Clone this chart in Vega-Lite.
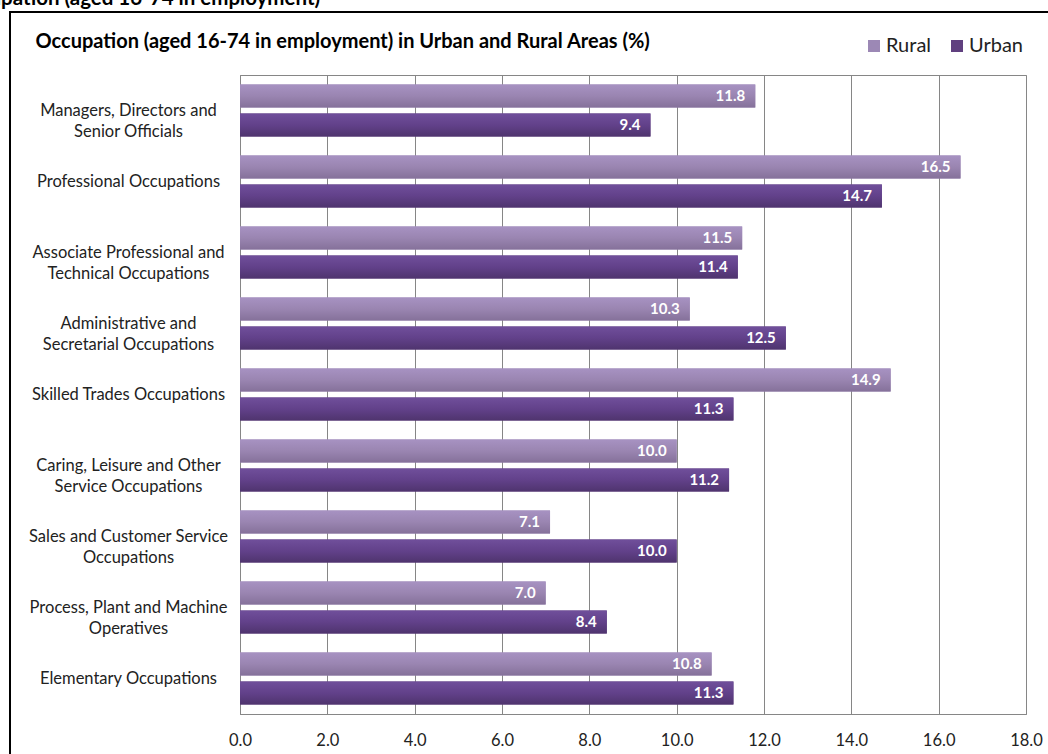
{
  "$schema": "https://vega.github.io/schema/vega-lite/v6.json",
  "autosize": {"type": "none"},
  "width": 786,
  "height": 639,
  "padding": {"left": 240, "top": 75, "right": 22, "bottom": 40},
  "background": "white",
  "config": {
    "view": {"stroke": "#868686", "strokeWidth": 1},
    "font": "Lato"
  },
  "data": {
    "values": [
      {"occupation": "Managers, Directors and|Senior Officials", "area": "Rural", "value": 11.8},
      {"occupation": "Managers, Directors and|Senior Officials", "area": "Urban", "value": 9.4},
      {"occupation": "Professional Occupations", "area": "Rural", "value": 16.5},
      {"occupation": "Professional Occupations", "area": "Urban", "value": 14.7},
      {"occupation": "Associate Professional and|Technical Occupations", "area": "Rural", "value": 11.5},
      {"occupation": "Associate Professional and|Technical Occupations", "area": "Urban", "value": 11.4},
      {"occupation": "Administrative and|Secretarial Occupations", "area": "Rural", "value": 10.3},
      {"occupation": "Administrative and|Secretarial Occupations", "area": "Urban", "value": 12.5},
      {"occupation": "Skilled Trades Occupations", "area": "Rural", "value": 14.9},
      {"occupation": "Skilled Trades Occupations", "area": "Urban", "value": 11.3},
      {"occupation": "Caring, Leisure and Other|Service Occupations", "area": "Rural", "value": 10.0},
      {"occupation": "Caring, Leisure and Other|Service Occupations", "area": "Urban", "value": 11.2},
      {"occupation": "Sales and Customer Service|Occupations", "area": "Rural", "value": 7.1},
      {"occupation": "Sales and Customer Service|Occupations", "area": "Urban", "value": 10.0},
      {"occupation": "Process, Plant and Machine|Operatives", "area": "Rural", "value": 7.0},
      {"occupation": "Process, Plant and Machine|Operatives", "area": "Urban", "value": 8.4},
      {"occupation": "Elementary Occupations", "area": "Rural", "value": 10.8},
      {"occupation": "Elementary Occupations", "area": "Urban", "value": 11.3}
    ]
  },
  "encoding": {
    "y": {
      "field": "occupation",
      "type": "nominal",
      "sort": null,
      "scale": {"paddingInner": 0.268, "paddingOuter": 0.134},
      "axis": {
        "domainColor": "#868686",
        "ticks": false,
        "labelAlign": "center",
        "labelPadding": 112,
        "labelFontSize": 16.5,
        "labelColor": "#222222",
        "labelFont": "Lato",
        "labelLineHeight": 21,
        "labelLimit": 300,
        "labelExpr": "split(datum.value, '|')",
        "title": "Occupation (aged 16-74 in employment) in Urban and Rural Areas (%)",
        "titleAngle": 0,
        "titleX": -205,
        "titleY": -28,
        "titleAlign": "left",
        "titleBaseline": "alphabetic",
        "titleFontSize": 20,
        "titleFontWeight": "bold",
        "titleColor": "black",
        "titleFont": "Lato"
      }
    },
    "yOffset": {
      "field": "area",
      "type": "nominal",
      "sort": ["Rural", "Urban"],
      "scale": {"paddingInner": 0.207}
    },
    "x": {
      "field": "value",
      "type": "quantitative",
      "scale": {"domain": [0, 18], "nice": false},
      "axis": {
        "values": [0, 2, 4, 6, 8, 10, 12, 14, 16, 18],
        "format": ".1f",
        "grid": true,
        "gridColor": "#868686",
        "domainColor": "#868686",
        "ticks": false,
        "labelFlush": false,
        "labelPadding": 18,
        "labelFontSize": 16.5,
        "labelColor": "#222222",
        "labelFont": "Lato",
        "title": "Occupation (aged 16-74 in employment)",
        "titleX": -287,
        "titleY": -710,
        "titleAlign": "left",
        "titleBaseline": "alphabetic",
        "titleFontSize": 20.5,
        "titleFontWeight": "bold",
        "titleColor": "black",
        "titleFont": "Lato"
      }
    }
  },
  "layer": [
    {
      "data": {"values": [{"frame": 1}]},
      "mark": {"type": "rect", "fill": null, "stroke": "black", "strokeWidth": 2},
      "encoding": {
        "x": {"value": -230},
        "x2": {"value": 820},
        "y": {"value": -63},
        "y2": {"value": 700},
        "yOffset": null
      }
    },
    {
      "mark": {"type": "bar"},
      "encoding": {
        "color": {
          "field": "area",
          "type": "nominal",
          "scale": {"domain": ["Rural", "Urban"], "range": ["#9c88b5", "#60407f"]},
          "legend": {
            "title": null,
            "orient": "none",
            "legendX": 624,
            "legendY": -39,
            "padding": 0,
            "direction": "horizontal",
            "symbolType": "square",
            "symbolSize": 144,
            "symbolStrokeWidth": 0,
            "labelFontSize": 20,
            "labelFont": "Lato",
            "labelColor": "#222222",
            "columnPadding": 15,
            "labelOffset": 2
          }
        }
      }
    },
    {
      "mark": {"type": "bar"},
      "encoding": {
        "fill": {
          "condition": {
            "test": "datum.area === 'Rural'",
            "value": {"gradient": "linear", "x1": 0, "y1": 0, "x2": 0, "y2": 1,
              "stops": [{"offset": 0, "color": "#a792c2"}, {"offset": 0.5, "color": "#9a85b1"}, {"offset": 1, "color": "#85719a"}]}
          },
          "value": {"gradient": "linear", "x1": 0, "y1": 0, "x2": 0, "y2": 1,
            "stops": [{"offset": 0, "color": "#704f9b"}, {"offset": 0.5, "color": "#62418a"}, {"offset": 1, "color": "#4f346e"}]}
        }
      }
    },
    {
      "mark": {"type": "text", "align": "right", "dx": -10, "fontSize": 15, "fontWeight": "bold", "color": "white", "font": "Lato"},
      "encoding": {
        "text": {"field": "value", "type": "quantitative", "format": ".1f"}
      }
    }
  ]
}
